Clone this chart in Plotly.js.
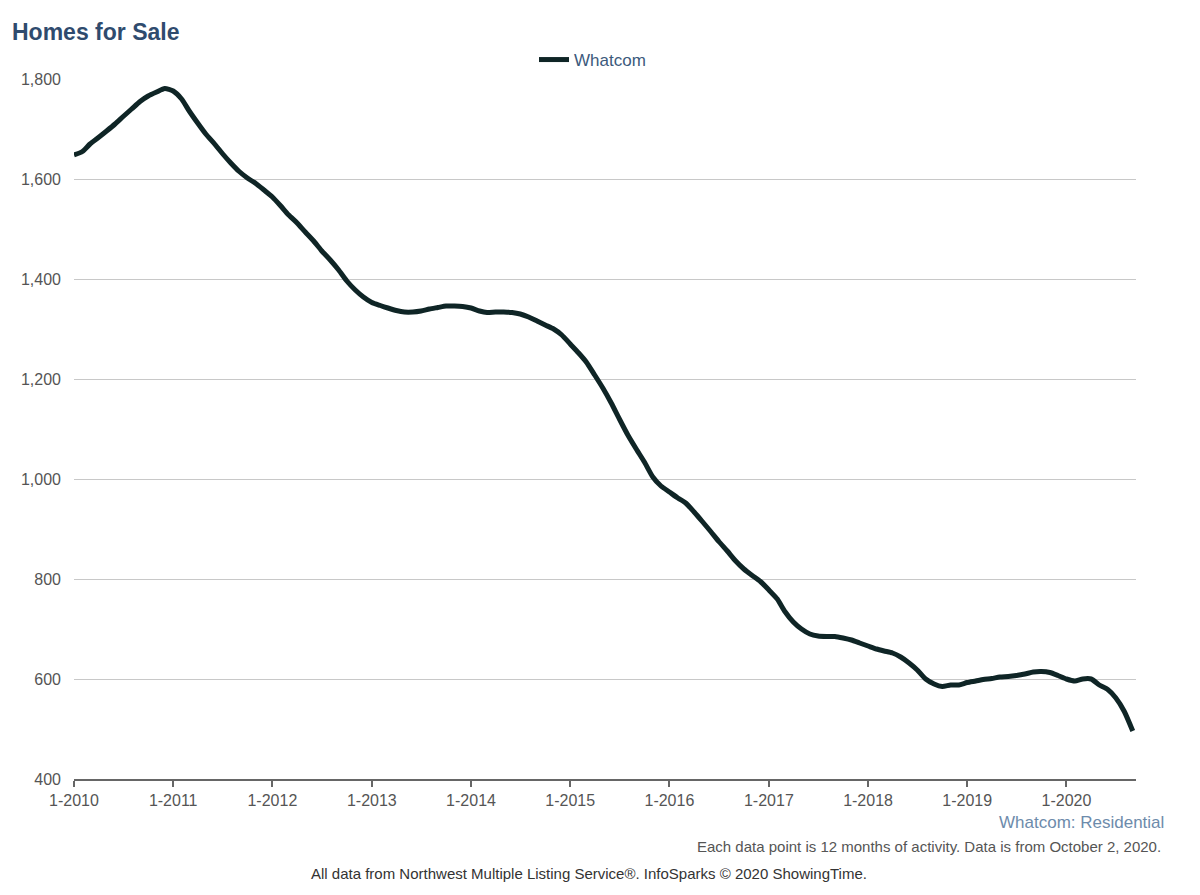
<!DOCTYPE html>
<html>
<head>
<meta charset="utf-8">
<script src="https://cdn.plot.ly/plotly-3.0.1.min.js"></script>
<style>
  html, body { margin: 0; padding: 0; background: #fff; }
  #chart { width: 1200px; height: 895px; }
</style>
</head>
<body>
<div id="chart"></div>
<script>
// Whatcom homes for sale, monthly Jan 2010 .. Sep 2020 (12-month rolling)
const startYear = 2010;
const homesForSale = [
  1648, 1655, 1670, 1683, 1696, 1710, 1725, 1740, 1755, 1766, 1774, 1781,
  1776, 1760, 1736, 1712, 1690, 1671, 1651, 1632, 1615, 1602, 1591, 1578,
  1564, 1546, 1528, 1512, 1494, 1476, 1456, 1438, 1418, 1396, 1378, 1364,
  1353, 1347, 1342, 1337, 1334, 1334, 1336, 1340, 1343, 1346, 1346, 1345,
  1342, 1336, 1333, 1334, 1334, 1333, 1330, 1324, 1316, 1308, 1300, 1288,
  1270, 1252, 1234, 1208, 1182, 1152, 1120, 1088, 1060, 1034, 1004, 986,
  974, 962, 952, 934, 915, 895, 875, 856, 836, 820, 807, 795,
  778, 760, 735, 714, 700, 690, 686, 685, 685, 682, 678, 672,
  666, 660, 656, 652, 644, 632, 618, 600, 590, 585, 588, 588,
  593, 596, 599, 601, 604, 605, 607, 610, 614, 615, 613, 607,
  600, 596, 600, 600, 588, 579, 562, 535, 496
];
const tickYears = [2010, 2011, 2012, 2013, 2014, 2015, 2016, 2017, 2018, 2019, 2020];

const pad = n => String(n).padStart(2, '0');
const dates = homesForSale.map((_, i) => {
  const y = startYear + Math.floor(i / 12);
  return `${y}-${pad(i % 12 + 1)}-01`;
});
const tickVals = tickYears.map(y => `${y}-01-01`);
const tickText = tickYears.map(y => `1-${y}`);

const FONT = 'Arial, "Liberation Sans", sans-serif';

// pixel helpers for the fixed 1200x895 page
const L = 74, R = 1136, T = 79, B = 779;
const px = x => (x - L) / (R - L);
const py = y => (B - y) / (B - T);

const traces = [{
  type: 'scatter', mode: 'lines', x: dates, y: homesForSale, name: 'Whatcom',
  line: { color: '#0f2526', width: 5, shape: 'spline', smoothing: 0.6 },
  hoverinfo: 'skip',
}];

Plotly.newPlot('chart', traces, {
  width: 1200, height: 895,
  paper_bgcolor: '#fff', plot_bgcolor: '#fff',
  font: { family: FONT, color: '#555', size: 16 },
  title: {
    text: '<b>Homes for Sale</b>', xref: 'container', yref: 'container',
    x: 12 / 1200, xanchor: 'left', y: 1 - 32 / 895, yanchor: 'middle',
    font: { family: FONT, size: 23, color: '#2f4b6e' },
  },
  margin: { l: L, r: 1200 - R, t: T, b: 895 - B },
  showlegend: true,
  legend: {
    orientation: 'h', x: px(534), xanchor: 'left', y: py(60), yanchor: 'middle',
    itemwidth: 30,
    font: { family: FONT, size: 17, color: '#3c5a7c' }, bgcolor: 'rgba(0,0,0,0)',
  },
  xaxis: {
    type: 'date', range: ['2010-01-01', '2020-09-13'],
    tickvals: tickVals, ticktext: tickText,
    showgrid: false, zeroline: false,
    showline: true, linecolor: '#666', linewidth: 2,
    ticks: 'outside', ticklen: 6, tickwidth: 2, tickcolor: '#666',
    tickfont: { family: FONT, size: 16, color: '#555' },
  },
  yaxis: {
    range: [400, 1800], dtick: 200, tick0: 400, tickformat: ',d',
    showgrid: true, gridcolor: '#c8c8c8', gridwidth: 1,
    zeroline: false, showline: false, ticks: '', ticklabelstandoff: 12,
    tickfont: { family: FONT, size: 16, color: '#555' },
  },
  annotations: [
    {
      text: 'Whatcom: Residential', xref: 'paper', yref: 'paper',
      x: px(1166), y: py(822), xanchor: 'right', yanchor: 'middle', showarrow: false,
      font: { family: FONT, size: 17, color: '#6d8bab' },
    },
    {
      text: 'Each data point is 12 months of activity. Data is from October 2, 2020.',
      xref: 'paper', yref: 'paper',
      x: px(1163), y: py(846), xanchor: 'right', yanchor: 'middle', showarrow: false,
      font: { family: FONT, size: 15, color: '#555' },
    },
    {
      text: 'All data from Northwest Multiple Listing Service®. InfoSparks © 2020 ShowingTime.',
      xref: 'paper', yref: 'paper',
      x: px(589), y: py(873), xanchor: 'center', yanchor: 'middle', showarrow: false,
      font: { family: FONT, size: 15, color: '#333' },
    },
  ],
}, { displayModeBar: false, staticPlot: true });
</script>
</body>
</html>
